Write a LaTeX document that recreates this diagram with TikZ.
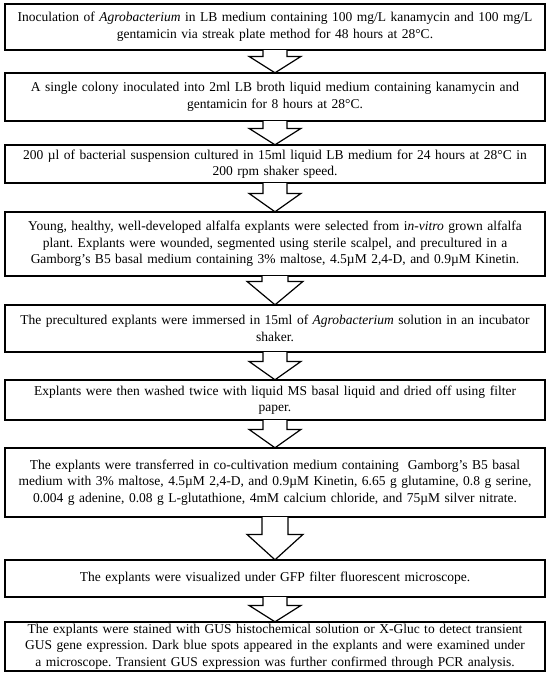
\documentclass[tikz,border=0pt]{standalone}
\usepackage{fontspec}
\setmainfont{Liberation Serif}
\usetikzlibrary{calc,shadows}
\frenchspacing
\tikzset{
  stepbox/.style={draw=black, line width=1.2pt, fill=white, minimum width=540pt,
    text width=536pt, inner xsep=2pt, inner ysep=0pt, align=center,
    font=\fontsize{13.5}{16.6}\selectfont,
    drop shadow={shadow xshift=1.4pt, shadow yshift=-1.4pt, fill=black, opacity=1}},
  blockarrow/.style={draw=black, line width=1.2pt, fill=white, line join=miter}
}
\newcommand{\flowarrow}[5]{% from, to, stem half width, head half width, head height
  \filldraw[blockarrow] ($(#1.south)+(-#3,-0.6)$) -- ($(#2.north)+(-#3,-#5)$) -- ($(#2.north)+(-#4,-#5)$)
    -- ($(#2.north)+(0,0.4)$) -- ($(#2.north)+(#4,-#5)$) -- ($(#2.north)+(#3,-#5)$) -- ($(#1.south)+(#3,-0.6)$);
}
\begin{document}
\begin{tikzpicture}[x=1pt,y=-1pt]
\useasboundingbox (0,0) rectangle (550,675);
\node[stepbox, minimum height=46pt] (b1) at (275,27) {Inoculation of \textit{Agrobacterium} in LB medium containing 100 mg/L kanamycin and 100 mg/L\\ gentamicin via streak plate method for 48 hours at 28°C.};
\node[stepbox, minimum height=48pt] (b2) at (275,97) {A single colony inoculated into 2ml LB broth liquid medium containing kanamycin and\\ gentamicin for 8 hours at 28°C.};
\node[stepbox, minimum height=38pt] (b3) at (275,164) {200 µl of bacterial suspension cultured in 15ml liquid LB medium for 24 hours at 28°C in\\ 200 rpm shaker speed.};
\node[stepbox, minimum height=64pt] (b4) at (275,244) {Young, healthy, well-developed alfalfa explants were selected from i\textit{n-vitro} grown alfalfa\\ plant. Explants were wounded, segmented using sterile scalpel, and precultured in a\\ Gamborg's B5 basal medium containing 3\% maltose, 4.5µM 2,4-D, and 0.9µM Kinetin.};
\node[stepbox, minimum height=47pt] (b5) at (275,328.5) {The precultured explants were immersed in 15ml of \textit{Agrobacterium} solution in an incubator\\ shaker.};
\node[stepbox, minimum height=40pt] (b6) at (275,400) {Explants were then washed twice with liquid MS basal liquid and dried off using filter\\ paper.};
\node[stepbox, minimum height=69pt] (b7) at (275,482.5) {The explants were transferred in co-cultivation medium containing\ \ Gamborg's B5 basal\\ medium with 3\% maltose, 4.5µM 2,4-D, and 0.9µM Kinetin, 6.65 g glutamine, 0.8 g serine,\\ 0.004 g adenine, 0.08 g L-glutathione, 4mM calcium chloride, and 75µM silver nitrate.};
\node[stepbox, minimum height=37pt] (b8) at (275,578.5) {The explants were visualized under GFP filter fluorescent microscope.};
\node[stepbox, minimum height=49pt] (b9) at (275,646.5) {The explants were stained with GUS histochemical solution or X-Gluc to detect transient\\ GUS gene expression. Dark blue spots appeared in the explants and were examined under\\ a microscope. Transient GUS expression was further confirmed through PCR analysis.};
\flowarrow{b1}{b2}{12}{26}{16}
\flowarrow{b2}{b3}{12}{26}{16}
\flowarrow{b3}{b4}{12}{26}{18}
\flowarrow{b4}{b5}{13}{28}{23}
\flowarrow{b5}{b6}{12}{26}{18}
\flowarrow{b6}{b7}{12}{26}{18}
\flowarrow{b7}{b8}{13}{28}{25}
\flowarrow{b8}{b9}{12}{26}{16}
\end{tikzpicture}
\end{document}
